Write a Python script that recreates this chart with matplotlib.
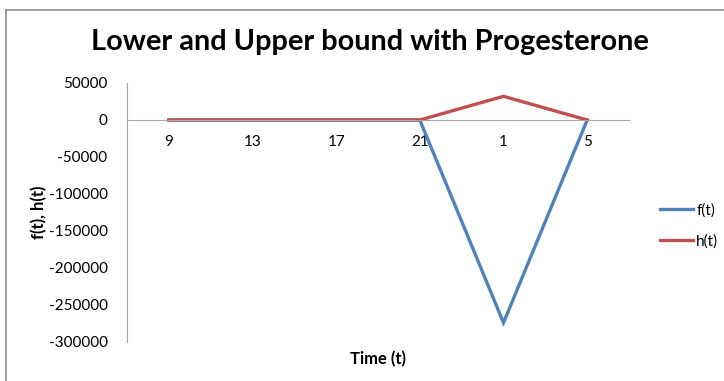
import matplotlib
matplotlib.use("Agg")
import matplotlib.pyplot as plt
from matplotlib.lines import Line2D

plt.rcParams['font.family'] = ['Lato', 'DejaVu Sans']

categories = ["9", "13", "17", "21", "1", "5"]
f_values = [0, 0, 0, 0, -274000, 0]
h_values = [0, 0, 0, 0, 32000, 0]
y_ticks = [50000, 0, -50000, -100000, -150000, -200000, -250000, -300000]

W, H = 724, 381
fig = plt.figure(figsize=(W / 100, H / 100), dpi=100)
fig.patch.set_facecolor("white")

# Chart-area frame (top and left edges visible)
fig.add_artist(Line2D([5.5 / W, 5.5 / W], [0, 1 - 9.5 / H], transform=fig.transFigure,
                      color="#8c8c8c", lw=1.2))
fig.add_artist(Line2D([5.5 / W, 1], [1 - 9.5 / H, 1 - 9.5 / H], transform=fig.transFigure,
                      color="#8c8c8c", lw=1.2))

ax = fig.add_axes([127 / W, 1 - 342 / H, 502 / W, (342 - 83) / H])
x = list(range(len(categories)))
ax.plot(x, f_values, color="#4F81BD", lw=2.4, label="f(t)", solid_joinstyle="miter")
ax.plot(x, h_values, color="#C0504D", lw=2.4, label="h(t)", solid_joinstyle="miter")

ax.set_xlim(-0.5, len(categories) - 0.5)
ax.set_ylim(-300000, 50000)
ax.set_yticks(y_ticks)
ax.set_yticklabels([str(v) for v in y_ticks])
ax.set_xticks(x)
ax.set_xticklabels(categories)

for s in ["top", "right"]:
    ax.spines[s].set_visible(False)
ax.spines["left"].set_color("#a6a6a6")
ax.spines["bottom"].set_color("#a6a6a6")
ax.spines["bottom"].set_position(("data", 0))
ax.tick_params(axis="both", length=0, labelsize=11, colors="black")
ax.tick_params(axis="y", pad=14)
ax.tick_params(axis="x", pad=11)

ax.set_xlabel("Time (t)", fontsize=12, fontweight="bold")
ax.xaxis.set_label_coords(0.5, -0.035)
ax.set_ylabel("f(t), h(t)", fontsize=12, fontweight="bold")
ax.yaxis.set_label_coords(-0.158, 0.5)

fig.text(370 / W, 1 - 42 / H, "Lower and Upper bound with Progesterone",
         ha="center", va="center", fontsize=20.8, fontweight="bold")

ax.legend(loc="center left", bbox_to_anchor=(652 / W, 1 - 226 / H),
          bbox_transform=fig.transFigure, frameon=False, fontsize=11,
          handlelength=2.2, handletextpad=0.2, labelspacing=1.1, borderpad=0)

fig.savefig("out.png", dpi=100)
